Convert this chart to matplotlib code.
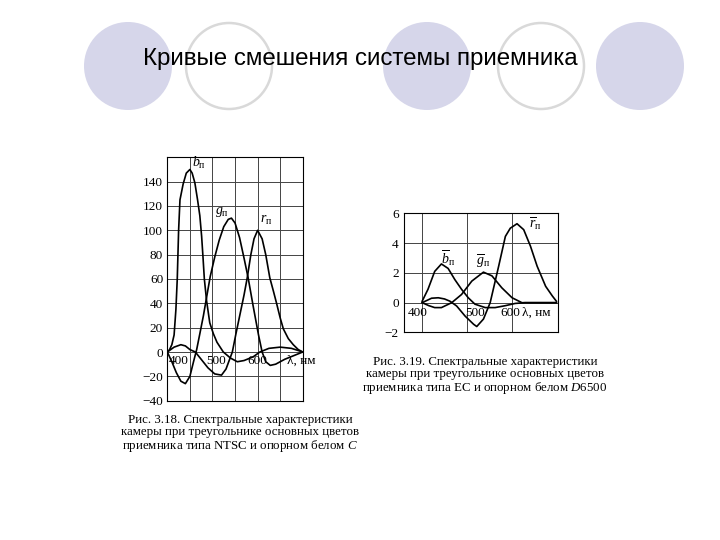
import matplotlib
matplotlib.use("Agg")
import matplotlib.pyplot as plt
from matplotlib.patches import Circle

plt.rcParams['font.family'] = ['Liberation Serif', 'DejaVu Serif']
plt.rcParams['mathtext.fontset'] = 'custom'
plt.rcParams['mathtext.rm'] = 'Liberation Serif'
plt.rcParams['mathtext.it'] = 'Liberation Serif:italic'

# --- Fig 3.18 (NTSC receiver primaries, white C) ---
b_nm = [400, 405, 410, 415, 419, 422, 425, 428, 435, 442, 450, 455, 461, 467, 472, 476, 479,
        482, 487, 494, 502, 510, 524, 540, 555, 570, 590, 605, 625, 650, 675, 700]
b_val = [0, 2, 6, 14, 35, 60, 100, 125, 138, 147, 150, 147, 139, 125, 112, 95, 78,
         60, 42, 24, 15, 8, 0, -5, -8, -7, -4, 0, 3, 4, 3, 0]

g_nm = [400, 410, 420, 430, 440, 450, 458, 465, 472, 480, 487, 495, 505, 515, 525, 535, 542,
        550, 560, 570, 579, 590, 602, 610, 618, 628, 640, 660, 680, 700]
g_val = [0, -8, -17, -24, -26, -20, -8, 2, 15, 30, 45, 62, 78, 92, 103, 109, 110,
         106, 94, 77, 61, 38, 14, 0, -8, -11, -10, -6, -3, 0]

r_nm = [400, 415, 430, 440, 450, 462, 475, 490, 505, 520, 530, 538, 544, 552, 561, 570, 577,
        585, 592, 600, 610, 618, 627, 635, 642, 650, 657, 668, 679, 690, 700]
r_val = [0, 4, 6, 5, 2, 0, -6, -13, -18, -19, -14, -6, 0, 15, 31, 47, 61,
         80, 93, 100, 93, 80, 61, 50, 40, 28, 19, 11, 6, 2, 0]

# --- Fig 3.19 (EC receiver primaries, white D6500) ---
bb_nm = [400, 413, 428, 443, 458, 473, 488, 503, 518, 541, 563, 586, 608, 630, 700]
bb_val = [0.1, 0.9, 2.1, 2.6, 2.3, 1.55, 0.9, 0.33, -0.1, -0.33, -0.33, -0.2, -0.05, 0, 0]

gb_nm = [400, 415, 428, 443, 466, 488, 511, 537, 556, 578, 601, 623, 650, 700]
gb_val = [0, -0.2, -0.33, -0.33, 0, 0.55, 1.45, 2.05, 1.8, 1.0, 0.33, 0, 0, 0]

rb_nm = [400, 421, 436, 450, 462, 477, 496, 515, 522, 537, 552, 571, 586, 597, 612, 627,
         642, 657, 676, 691, 700]
rb_val = [0, 0.3, 0.33, 0.25, 0.1, -0.22, -0.9, -1.45, -1.6, -1.1, 0, 2.45, 4.45, 5.0, 5.3, 4.9,
          3.8, 2.45, 1.1, 0.45, 0.1]

fig = plt.figure(figsize=(7.2, 5.4), dpi=100)

# background decoration: circles in pixel space
bg = fig.add_axes([0, 0, 1, 1], zorder=0)
bg.set_xlim(0, 720)
bg.set_ylim(540, 0)
bg.axis('off')
for cx, filled in [(128, True), (229, False), (427, True), (541, False), (640, True)]:
    if filled:
        bg.add_patch(Circle((cx, 66), 44, facecolor='#d6d6ea', edgecolor='none'))
    else:
        bg.add_patch(Circle((cx, 66), 43, facecolor='white', edgecolor='#d9d9d9', lw=1.8))
bg.text(360, 65, 'Кривые смешения системы приемника', ha='center', va='baseline',
        fontsize=17.4, family='Liberation Sans', color='black')

line_kw = dict(color='black', lw=1.2)

# left chart
ax1 = fig.add_axes([0.2324, 0.2580, 0.1881, 0.4507], zorder=2)
ax1.plot(b_nm, b_val, **line_kw)
ax1.plot(g_nm, g_val, **line_kw)
ax1.plot(r_nm, r_val, **line_kw)
ax1.set_xlim(400, 700)
ax1.set_ylim(-40, 160)
ax1.set_xticks(range(400, 701, 50))
ax1.set_xticklabels([])
ax1.set_yticks(range(-40, 161, 20))
ax1.set_yticklabels(['\u221240', '\u221220', '0', '20', '40', '60', '80', '100', '120', '140', ''])
ax1.tick_params(length=0, labelsize=9.5, pad=3)
ax1.grid(True, color='#444444', lw=0.7)
for s in ax1.spines.values():
    s.set_linewidth(0.8)
for x, t in [(426, '400'), (508, '500'), (600, '600')]:
    ax1.text(x, -7, t, ha='center', va='center', fontsize=9.5)
ax1.text(665, -7, 'λ, нм', ha='left', va='center', fontsize=9.5, clip_on=False)
ax1.text(470, 155, r'$b_{\mathrm{п}}$', ha='center', va='center', fontsize=10)
ax1.text(520, 115, r'$g_{\mathrm{п}}$', ha='center', va='center', fontsize=10)
ax1.text(620, 108, r'$r_{\mathrm{п}}$', ha='center', va='center', fontsize=10)

fig.text(240 / 720, 1 - 434 / 540,
         'Рис. 3.18. Спектральные характеристики\n'
         'камеры при треугольнике основных цветов\n'
         'приемника типа NTSC и опорном белом $C$',
         ha='center', va='center', fontsize=9.3, linespacing=1.0)

# right chart
ax2 = fig.add_axes([0.5615, 0.3843, 0.2131, 0.2207], zorder=2)
ax2.plot(bb_nm, bb_val, **line_kw)
ax2.plot(gb_nm, gb_val, **line_kw)
ax2.plot(rb_nm, rb_val, **line_kw)
ax2.set_xlim(360, 703)
ax2.set_ylim(-2, 6)
ax2.set_xticks([400, 500, 600])
ax2.set_xticklabels([])
ax2.set_yticks(range(-2, 7, 2))
ax2.set_yticklabels(['\u22122', '0', '2', '4', '6'])
ax2.tick_params(length=0, labelsize=9.5, pad=4)
ax2.grid(True, color='#444444', lw=0.7)
for s in ax2.spines.values():
    s.set_linewidth(0.8)
for x, t in [(389, '400'), (518, '500'), (598, '600')]:
    ax2.text(x, -0.67, t, ha='center', va='center', fontsize=9.5)
ax2.text(623, -0.67, 'λ, нм', ha='left', va='center', fontsize=9.5, clip_on=False)
ax2.text(458, 3.0, r'$\overline{b}_{\mathrm{п}}$', ha='center', va='center', fontsize=10)
ax2.text(536, 2.75, r'$\overline{g}_{\mathrm{п}}$', ha='center', va='center', fontsize=10)
ax2.text(652, 5.3, r'$\overline{r}_{\mathrm{п}}$', ha='center', va='center', fontsize=10)

fig.text(485 / 720, 1 - 376 / 540,
         'Рис. 3.19. Спектральные характеристики\n'
         'камеры при треугольнике основных цветов\n'
         'приемника типа ЕС и опорном белом $D$6500',
         ha='center', va='center', fontsize=9.3, linespacing=1.0)

fig.savefig('out.png', dpi=100)
